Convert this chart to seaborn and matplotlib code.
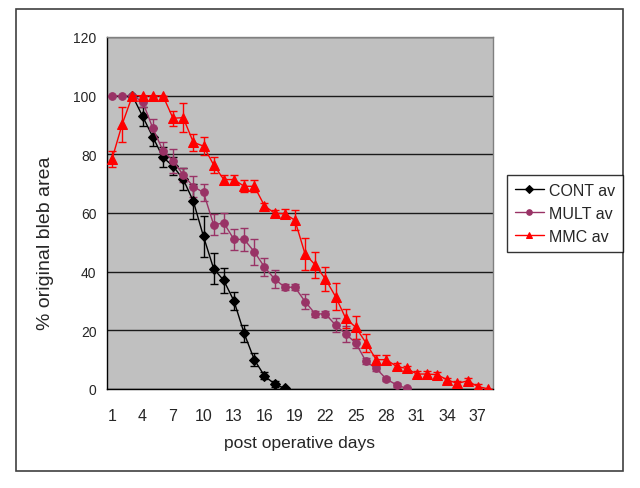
import numpy as np
import pandas as pd
import matplotlib
matplotlib.use("Agg")
import matplotlib.pyplot as plt
import seaborn as sns
from matplotlib.patches import Rectangle
from matplotlib.ticker import FixedLocator

# values (% of original bleb area per day)
days = list(range(1, 39))

cont_days = list(range(3, 19))
cont_vals = [100, 93, 86, 79, 76, 71.5, 64, 52, 41, 37, 30, 19, 10, 4.5, 1.7, 0.2]
cont_err = [0, 3.2, 3.1, 3.4, 3, 3.8, 6, 7, 5.2, 4.4, 3.1, 2.9, 2.3, 1.2, 1, 0]

mult_days = list(range(1, 31))
mult_vals = [100, 100, 100, 98, 89, 81.3, 77.8, 73, 69, 67, 56, 56.6, 51, 51, 46.8,
             41.6, 37.5, 34.7, 34.7, 29.8, 25.6, 25.6, 21.8, 18.8, 15.6, 9.4, 7.0, 3.4, 1.4, 0.2]
mult_err = [0, 0, 0, 2, 3, 3, 4, 2.5, 3.5, 3, 3.5, 3.5, 3.5, 3.8, 4.5,
            3, 3.2, 1, 1, 2.5, 1, 1, 2.5, 2.8, 1.5, 1, 1, 0.8, 0.8, 0]

mmc_days = list(range(1, 39))
mmc_vals = [78.5, 90.3, 100, 100, 100, 100, 92.3, 92.5, 84.1, 82.8, 76.4, 71.4, 71.4,
            69.1, 69.1, 62.5, 59.9, 59.8, 57.5, 46, 42.3, 37.5, 31.5, 24.1, 21, 15.7,
            10, 10, 7.7, 7, 5.1, 5.1, 4.9, 3.1, 1.9, 2.8, 0.8, 0.1]
mmc_err = [2.8, 6, 0, 0, 0, 0, 2.5, 5, 2.8, 3.1, 2.8, 1.5, 1.5, 2, 2, 1, 1, 1.5,
           3.4, 5.4, 4.4, 4.1, 4.5, 3.2, 3.8, 3, 1.5, 1.5, 1, 1, 1, 1, 1, 0.8,
           0.8, 0.8, 0.8, 0]

series_names = ["CONT av", "MULT av", "MMC av"]
colors = {"CONT av": "#000000", "MULT av": "#993366", "MMC av": "#FF0000"}
markers = {"CONT av": "D", "MULT av": "o", "MMC av": "^"}
msize = {"CONT av": 5, "MULT av": 5.5, "MMC av": 7}

frames = []
for name, d, v, e in [("CONT av", cont_days, cont_vals, cont_err),
                      ("MULT av", mult_days, mult_vals, mult_err),
                      ("MMC av", mmc_days, mmc_vals, mmc_err)]:
    frames.append(pd.DataFrame({"day": d, "value": v, "err": e, "series": name}))
df = pd.concat(frames, ignore_index=True)

sns.set_style("white")
plt.rcParams["font.family"] = ["Liberation Sans", "DejaVu Sans"]

fig = plt.figure(figsize=(6.4, 4.89), dpi=100)
ax = fig.add_axes([107 / 640, 1 - 390 / 489, 386 / 640, 352 / 489])
ax.set_facecolor("#C0C0C0")

for name in series_names:
    sub = df[df["series"] == name]
    ax.errorbar(sub["day"], sub["value"], yerr=sub["err"], fmt="none",
                ecolor=colors[name], elinewidth=1, capsize=3, capthick=1, zorder=3)
    sns.lineplot(data=sub, x="day", y="value", ax=ax, color=colors[name],
                 marker=markers[name], markersize=msize[name],
                 markeredgecolor=colors[name], linewidth=1, label=name, zorder=4)

ax.set_xlim(0.5, 38.5)
ax.set_ylim(0, 120)
ax.set_yticks(np.arange(0, 121, 20))
ax.yaxis.grid(True, color="#1a1a1a", linewidth=1)
ax.set_axisbelow(True)

ax.set_xticks(days[::3])
ax.set_xticklabels([str(d) for d in days[::3]])
ax.xaxis.set_minor_locator(FixedLocator(np.arange(0.5, 39, 1)))
ax.tick_params(axis="x", which="major", length=0, pad=14, labelsize=11.5)
ax.tick_params(axis="x", which="minor", length=4, width=1, color="black", direction="out")
ax.tick_params(axis="y", length=5, width=1, color="black", direction="out", labelsize=10, pad=2.5)

for side in ["left", "bottom"]:
    ax.spines[side].set_color("black")
    ax.spines[side].set_linewidth(1)
for side in ["top", "right"]:
    ax.spines[side].set_color("#808080")
    ax.spines[side].set_linewidth(1)

ax.set_xlabel("post operative days", fontsize=12.5, labelpad=8)
ax.set_ylabel("% original bleb area", fontsize=14)
ax.yaxis.set_label_coords(-0.138, 0.418)

ax.get_legend().remove()
handles, labels = ax.get_legend_handles_labels()
leg = fig.legend(handles, labels, loc="upper left", bbox_to_anchor=(507 / 640, 1 - 176 / 489),
                 borderaxespad=0, frameon=True, fancybox=False, edgecolor="black",
                 fontsize=11.5, handlelength=1.8, borderpad=0.5, labelspacing=0.5,
                 handletextpad=0.3)
leg.get_frame().set_linewidth(1)
for h in leg.legend_handles:
    h.set_markersize(4)

fig.patches.append(Rectangle((16 / 640, 1 - 472 / 489), 607 / 640, 462 / 489,
                             transform=fig.transFigure, fill=False,
                             edgecolor="#404040", linewidth=1.2))

fig.savefig("out.png", dpi=100)
